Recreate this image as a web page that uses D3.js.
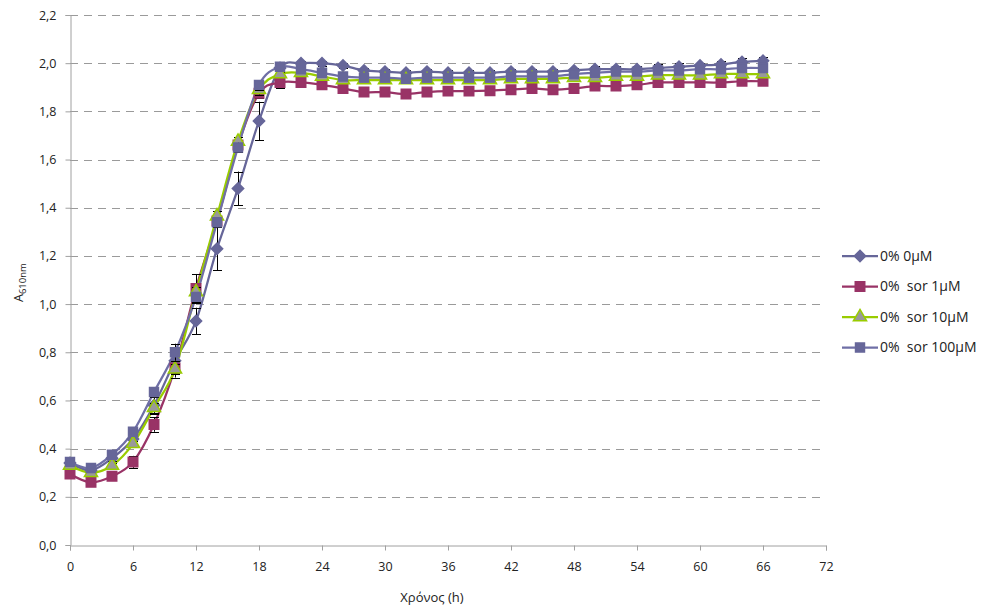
<!DOCTYPE html>
<html lang="en">
<head>
    <meta charset="UTF-8">
    <title>A610nm</title>
    <style>
        body { margin: 0; background: #fff; }
        text { font-family: "Open Sans", "Noto Sans", sans-serif; fill: #222; }
        .grid line { stroke: #9a9a9a; stroke-dasharray: 8,6; }
        .axis path, .axis line { stroke: #a0a0a0; }
    </style>
</head>
<body>
    <script src="https://cdn.jsdelivr.net/npm/d3@7"></script>
    <script>

        var width = 986,
            height = 608;

        // data
        var time = d3.range(0, 67, 2);

        var names = ["0% 0\u03bcM", "0%\u00a0 sor 1\u03bcM", "0%\u00a0 sor 10\u03bcM", "0%\u00a0 sor 100\u03bcM"];

        var s0uM = [0.34, 0.31, 0.36, 0.44, 0.58, 0.765, 0.93, 1.23, 1.48, 1.76, 1.98, 2.00, 2.00, 1.99, 1.97, 1.965,
            1.96, 1.965, 1.96, 1.96, 1.96, 1.965, 1.965, 1.965, 1.97, 1.975, 1.975, 1.975, 1.98, 1.985, 1.99, 1.995, 2.005, 2.01];
        var s1uM = [0.295, 0.26, 0.285, 0.345, 0.50, 0.735, 1.065, 1.345, 1.66, 1.875, 1.92, 1.92, 1.91, 1.895, 1.88, 1.88,
            1.872, 1.88, 1.884, 1.884, 1.886, 1.89, 1.895, 1.89, 1.895, 1.905, 1.905, 1.91, 1.92, 1.92, 1.92, 1.92, 1.925, 1.925];
        var s10uM = [0.33, 0.30, 0.33, 0.42, 0.57, 0.73, 1.05, 1.365, 1.675, 1.89, 1.955, 1.96, 1.945, 1.93, 1.93, 1.93,
            1.93, 1.93, 1.93, 1.93, 1.93, 1.935, 1.935, 1.935, 1.94, 1.94, 1.945, 1.945, 1.95, 1.95, 1.95, 1.955, 1.955, 1.955];
        var s100uM = [0.345, 0.32, 0.375, 0.47, 0.635, 0.80, 1.03, 1.34, 1.65, 1.91, 1.985, 1.975, 1.96, 1.945, 1.94, 1.94,
            1.935, 1.94, 1.94, 1.94, 1.94, 1.945, 1.945, 1.945, 1.955, 1.96, 1.965, 1.965, 1.97, 1.97, 1.975, 1.975, 1.98, 1.98];

        // error bars (+/-)
        var e0uM = [0.01, 0.01, 0.01, 0.015, 0.035, 0.07, 0.055, 0.09, 0.07, 0.08, 0.01, 0.01, 0.01, 0.01, 0.01, 0.01,
            0.01, 0.01, 0.01, 0.01, 0.01, 0.01, 0.01, 0.01, 0.012, 0.012, 0.012, 0.012, 0.015, 0.015, 0.012, 0.012, 0.015, 0.015];
        var e1uM = [0.01, 0.01, 0.01, 0.025, 0.03, 0.02, 0.06, 0.02, 0.02, 0.02, 0.025, 0.01, 0.01, 0.01, 0.01, 0.01,
            0.01, 0.01, 0.01, 0.01, 0.01, 0.01, 0.01, 0.01, 0.01, 0.01, 0.01, 0.01, 0.01, 0.01, 0.01, 0.01, 0.01, 0.01];
        var e10uM = [0.01, 0.01, 0.01, 0.01, 0.02, 0.02, 0.02, 0.02, 0.02, 0.02, 0.01, 0.01, 0.01, 0.01, 0.01, 0.01,
            0.01, 0.01, 0.01, 0.01, 0.01, 0.01, 0.01, 0.01, 0.01, 0.01, 0.01, 0.01, 0.01, 0.01, 0.01, 0.01, 0.01, 0.01];
        var e100uM = [0.01, 0.01, 0.01, 0.01, 0.02, 0.035, 0.02, 0.02, 0.02, 0.02, 0.01, 0.01, 0.01, 0.01, 0.01, 0.01,
            0.01, 0.01, 0.01, 0.01, 0.01, 0.01, 0.01, 0.01, 0.01, 0.01, 0.01, 0.01, 0.01, 0.01, 0.01, 0.01, 0.01, 0.01];

        var xTicks = d3.range(0, 73, 6);
        var yTicks = d3.range(0, 2.21, 0.2);

        var series = [
            { name: names[0], values: s0uM, err: e0uM, line: "#666699", fill: "#666699", stroke: "#666699", shape: d3.symbolSquare, rot: 45, size: 64 },
            { name: names[1], values: s1uM, err: e1uM, line: "#993366", fill: "#993366", stroke: "#993366", shape: d3.symbolSquare, rot: 0, size: 90 },
            { name: names[2], values: s10uM, err: e10uM, line: "#99cc00", fill: "#999999", stroke: "#99cc00", shape: d3.symbolTriangle, rot: 0, size: 75 },
            { name: names[3], values: s100uM, err: e100uM, line: "#6f6fa6", fill: "#666699", stroke: "#666699", shape: d3.symbolSquare, rot: 0, size: 80 }
        ];

        var margin = { left: 70, right: 160, top: 15, bottom: 63 };

        var x = d3.scaleLinear()
            .domain([0, 72])
            .range([margin.left, width - margin.right]);

        var y = d3.scaleLinear()
            .domain([0, 2.2])
            .range([height - margin.bottom, margin.top]);

        var locale = d3.formatLocale({ decimal: ",", thousands: ".", grouping: [3], currency: ["", "€"] });
        var fmt = locale.format(".1f");

        var svg = d3.select("body").append("svg")
            .attr("width", width)
            .attr("height", height);

        // gridlines
        svg.append("g")
            .attr("class", "grid")
            .selectAll("line")
            .data(yTicks.filter(function(d) { return d > 0.01; }))
            .enter().append("line")
            .attr("x1", x(0))
            .attr("x2", x(72))
            .attr("y1", function(d) { return Math.round(y(d)) + 0.5; })
            .attr("y2", function(d) { return Math.round(y(d)) + 0.5; });

        // axes
        svg.append("g")
            .attr("class", "axis")
            .attr("transform", "translate(" + (x(0) + 0.5) + ",0)")
            .call(d3.axisLeft(y).tickValues(yTicks).tickFormat(fmt).tickSizeOuter(0).tickSize(5).tickPadding(9));

        svg.append("g")
            .attr("class", "axis")
            .attr("transform", "translate(0," + (Math.round(y(0)) + 0.5) + ")")
            .call(d3.axisBottom(x).tickValues(xTicks).tickSizeOuter(0).tickSize(5).tickPadding(12));

        svg.selectAll(".axis text")
            .style("font-size", "12.5px")
            .style("fill", "#222");

        // axis titles
        svg.append("text")
            .attr("x", 432)
            .attr("y", 602)
            .attr("text-anchor", "middle")
            .style("font-size", "13px")
            .text("Χρόνος (h)");

        var yTitle = svg.append("text")
            .attr("transform", "translate(23,302) rotate(-90)")
            .attr("text-anchor", "start")
            .style("font-size", "12.5px");
        yTitle.append("tspan").text("A");
        yTitle.append("tspan")
            .attr("dy", 3)
            .style("font-size", "9.5px")
            .text("610nm");

        var line = d3.line()
            .x(function(d, i) { return x(time[i]); })
            .y(function(d) { return y(d); })
            .curve(d3.curveCardinal.tension(0));

        // lines
        svg.append("g")
            .selectAll("path")
            .data(series)
            .enter().append("path")
            .attr("fill", "none")
            .attr("stroke", function(d) { return d.line; })
            .attr("stroke-width", 2.25)
            .attr("d", function(d) { return line(d.values); });

        // error bars and markers, series by series
        series.forEach(function(s) {
            var g = svg.append("g");

            var eb = g.selectAll(".err")
                .data(s.values)
                .enter().append("g")
                .attr("stroke", "#000")
                .attr("stroke-width", 1);

            eb.append("line")
                .attr("x1", function(d, i) { return x(time[i]) + 0.5; })
                .attr("x2", function(d, i) { return x(time[i]) + 0.5; })
                .attr("y1", function(d, i) { return y(d + s.err[i]); })
                .attr("y2", function(d, i) { return y(d - s.err[i]); });

            eb.selectAll(".cap")
                .data(function(d, i) { return [[i, d + s.err[i]], [i, d - s.err[i]]]; })
                .enter().append("line")
                .attr("x1", function(d) { return x(time[d[0]]) - 4; })
                .attr("x2", function(d) { return x(time[d[0]]) + 5; })
                .attr("y1", function(d) { return Math.round(y(d[1])) + 0.5; })
                .attr("y2", function(d) { return Math.round(y(d[1])) + 0.5; });

            g.selectAll(".mark")
                .data(s.values)
                .enter().append("path")
                .attr("transform", function(d, i) {
                    return "translate(" + x(time[i]) + "," + y(d) + ") rotate(" + s.rot + ")";
                })
                .attr("d", d3.symbol().type(s.shape).size(s.size))
                .attr("fill", s.fill)
                .attr("stroke", s.stroke)
                .attr("stroke-width", 1.5);
        });

        // legend
        var legend = svg.append("g")
            .selectAll("g")
            .data(series)
            .enter().append("g")
            .attr("transform", function(d, i) { return "translate(842," + (256 + i * 30.5) + ")"; });

        legend.append("line")
            .attr("x1", 0)
            .attr("x2", 36)
            .attr("stroke", function(d) { return d.line; })
            .attr("stroke-width", 2.25);

        legend.append("path")
            .attr("transform", function(d) { return "translate(18,0) rotate(" + d.rot + ")"; })
            .attr("d", function(d) { return d3.symbol().type(d.shape).size(d.size)(); })
            .attr("fill", function(d) { return d.fill; })
            .attr("stroke", function(d) { return d.stroke; })
            .attr("stroke-width", 1.5);

        legend.append("text")
            .attr("x", 38)
            .attr("dy", "0.35em")
            .style("font-size", "14px")
            .text(function(d) { return d.name; });

    </script>
</body>
</html>
